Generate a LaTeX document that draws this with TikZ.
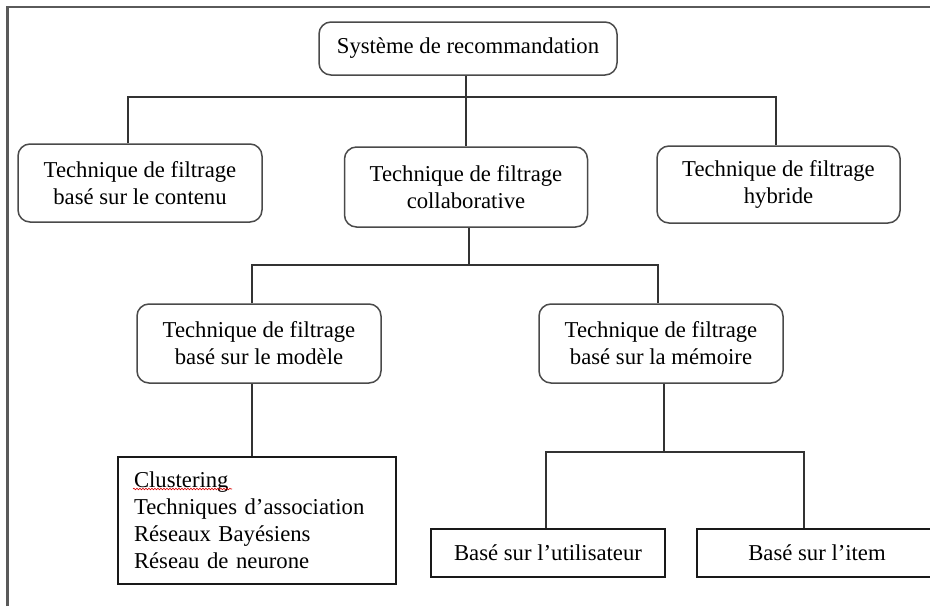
\documentclass[tikz,border=0pt]{standalone}
\usepackage{fontspec}
\setmainfont{Liberation Serif}
\usetikzlibrary{decorations.pathmorphing}
\definecolor{framegray}{HTML}{5A5A5A}
\definecolor{boxgray}{HTML}{4A4A4A}
\definecolor{linegray}{HTML}{333333}
\begin{document}
\begin{tikzpicture}[x=1pt,y=-1pt,
  every node/.style={font=\fontsize{22.7}{27}\selectfont, align=center, inner sep=0pt},
  rbox/.style={draw=boxgray, line width=1.5pt, rounded corners=12pt, fill=white},
  sbox/.style={draw=black!90, line width=1.5pt, fill=white},
  conn/.style={draw=linegray, line width=1.6pt},
  squiggle/.style={draw=red!85!black, line width=0.6pt, decorate,
    decoration={snake, amplitude=0.8pt, segment length=3pt}}]
\useasboundingbox (0,0) rectangle (930,606);
\clip (0,0) rectangle (930,606);
\fill[white] (0,0) rectangle (930,606);

% outer frame (top and left edges)
\draw[framegray, line width=2.2pt] (7.5,606) -- (7.5,7) -- (930,7);

% boxes
\node[rbox, minimum width=298, minimum height=53] (root) at (468,48.5) {Système de recommandation};
\node[rbox, minimum width=244, minimum height=78] (content) at (140,183) {Technique de filtrage\\basé sur le contenu};
\node[rbox, minimum width=243, minimum height=80] (collab) at (466,187) {Technique de filtrage\\collaborative};
\node[rbox, minimum width=243, minimum height=77] (hybrid) at (778.5,184.5) {Technique de filtrage\\hybride};
\node[rbox, minimum width=244, minimum height=79] (model) at (259,343.5) {Technique de filtrage\\basé sur le modèle};
\node[rbox, minimum width=244, minimum height=79] (memory) at (661,343.5) {Technique de filtrage\\basé sur la mémoire};
\node[sbox, minimum width=234, minimum height=48] (user) at (548,553) {Basé sur l’utilisateur};
\node[sbox, minimum width=240, minimum height=48] (item) at (817,553) {Basé sur l’item};
\node[sbox, minimum width=278, minimum height=127, text width=246, align=left] (algos) at (257,520.5)
  {Clustering\\Techniques d’association\\Réseaux Bayésiens\\Réseau de neurone};

% spelling mark under the first list entry
\draw[squiggle] (133,489) -- (232,489);

% bus levels
\coordinate (busA) at (466,97);
\coordinate (busB) at (466,265);
\coordinate (busC) at (664,452);

% attachment points
\coordinate (rB)  at ([xshift=-2]root.south);
\coordinate (cT)  at ([xshift=-12]content.north);
\coordinate (hT)  at ([xshift=-2.5]hybrid.north);
\coordinate (colB) at ([xshift=3]collab.south);
\coordinate (moT) at ([xshift=-7]model.north);
\coordinate (meT) at ([xshift=-3]memory.north);
\coordinate (moB) at ([xshift=-7]model.south);
\coordinate (meB) at ([xshift=3]memory.south);
\coordinate (uT)  at ([xshift=-2]user.north);
\coordinate (iT)  at ([xshift=-13]item.north);

% first level
\draw[conn] (rB) -- (rB |- busA);
\draw[conn] (cT) -- (cT |- busA) -- (hT |- busA) -- (hT);
\draw[conn] (collab.north |- busA) -- (collab.north);

% second level
\draw[conn] (colB) -- (colB |- busB);
\draw[conn] (moT) -- (moT |- busB) -- (meT |- busB) -- (meT);

% third level
\draw[conn] (moB) -- (moB |- algos.north);
\draw[conn] (meB) -- (meB |- busC);
\draw[conn] (uT) -- (uT |- busC) -- (iT |- busC) -- (iT);
\end{tikzpicture}
\end{document}
